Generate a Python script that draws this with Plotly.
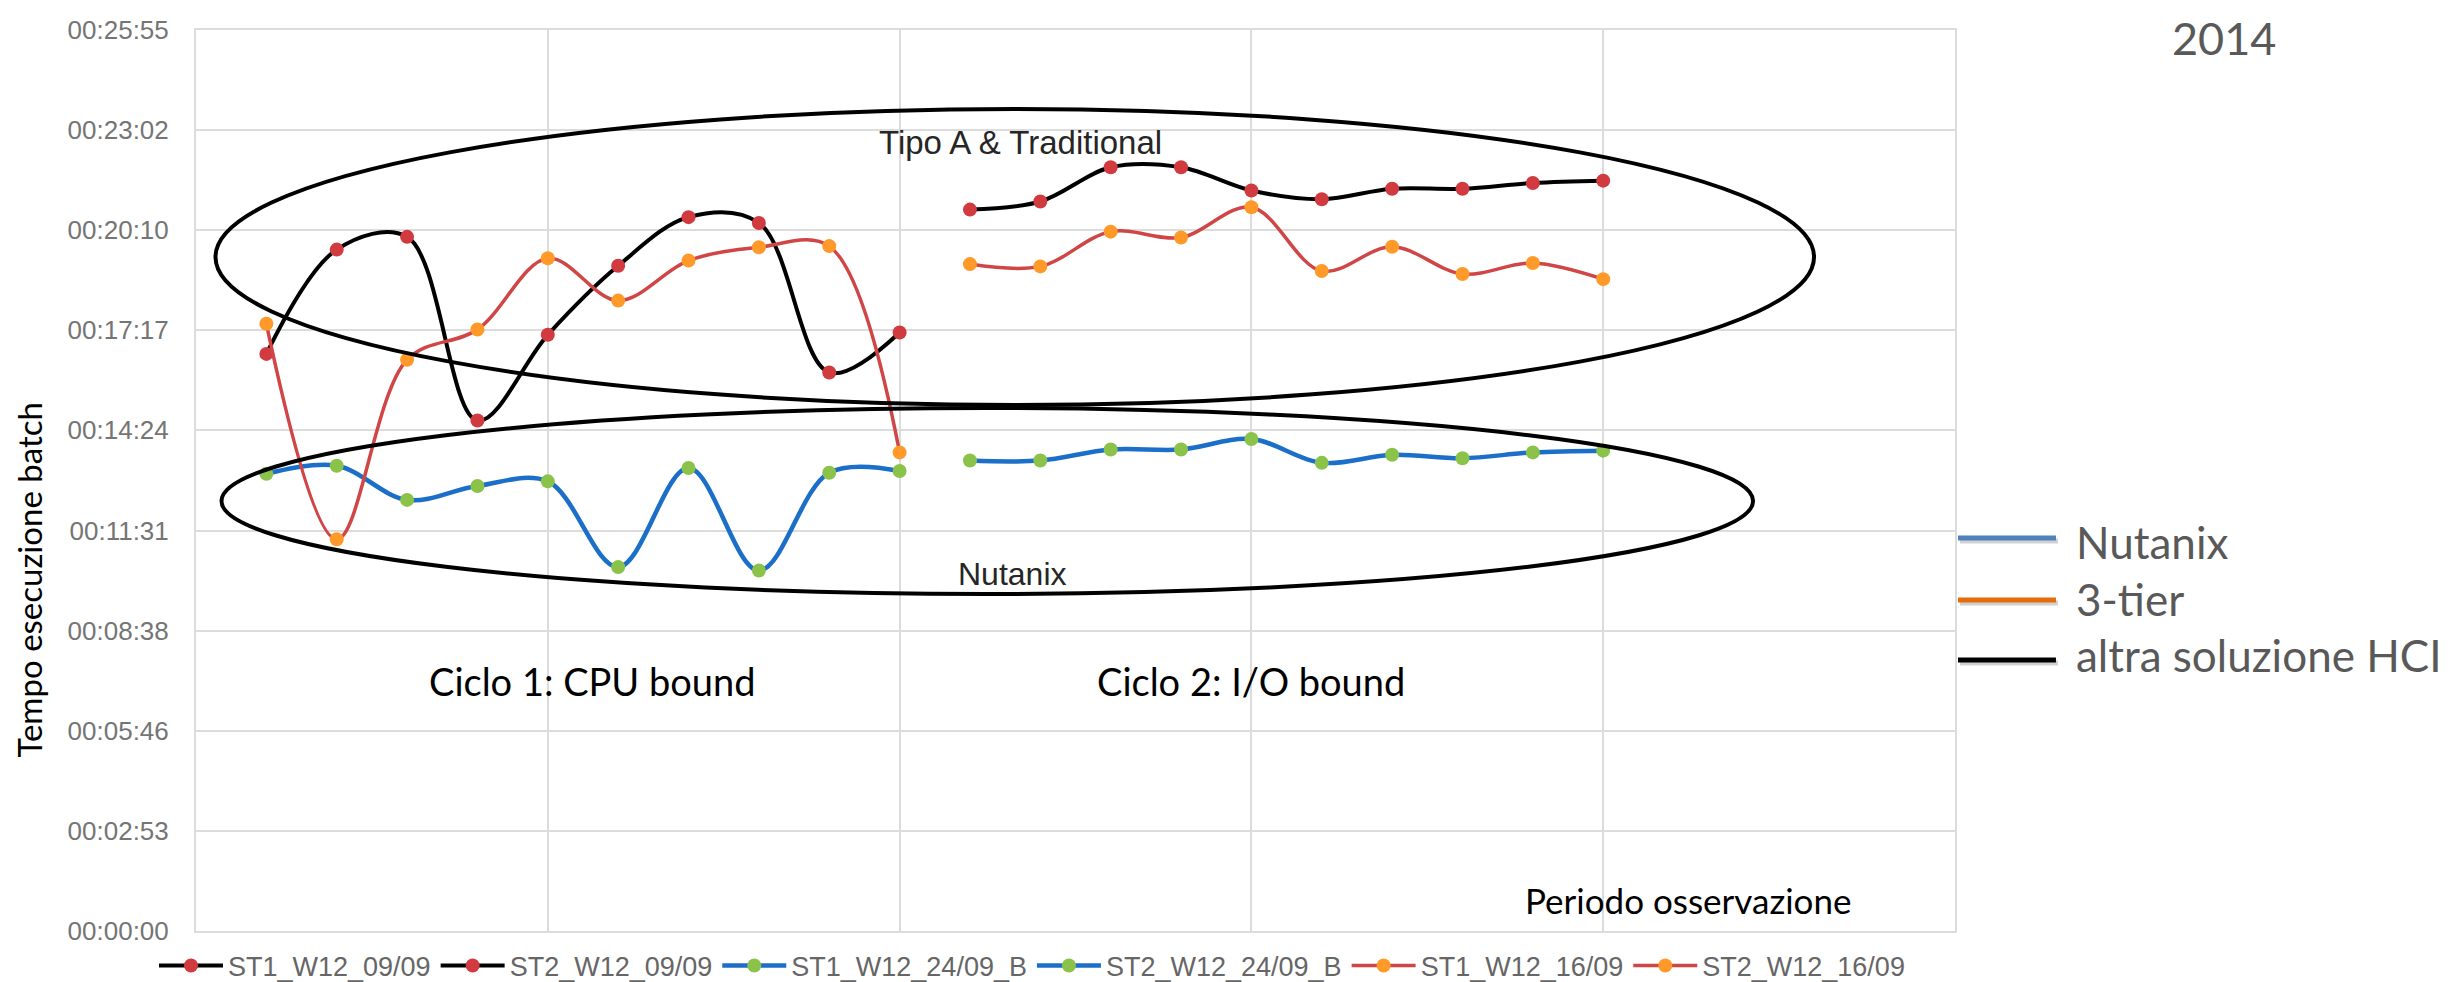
import plotly.graph_objects as go

# ---------------- data (seconds) ----------------
positions_c1 = [1, 2, 3, 4, 5, 6, 7, 8, 9, 10]
positions_c2 = [11, 12, 13, 14, 15, 16, 17, 18, 19, 20]

st1_0909 = [996, 1176, 1198, 881, 1029, 1148, 1232, 1222, 964, 1033]
st2_0909 = [1245, 1259, 1318, 1318, 1278, 1263, 1281, 1281, 1291, 1295]
st1_2409b = [789, 803, 744, 768, 776, 628, 799, 622, 791, 794]
st2_2409b = [812, 812, 831, 831, 849, 808, 822, 816, 826, 829]
st1_1609 = [1048, 676, 986, 1038, 1161, 1088, 1157, 1180, 1182, 826]
st2_1609 = [1151, 1147, 1207, 1197, 1249, 1139, 1181, 1134, 1153, 1125]

series_names = ["ST1_W12_09/09", "ST2_W12_09/09", "ST1_W12_24/09_B",
                "ST2_W12_24/09_B", "ST1_W12_16/09", "ST2_W12_16/09"]

y_tick_labels = ["00:00:00", "00:02:53", "00:05:46", "00:08:38", "00:11:31",
                 "00:14:24", "00:17:17", "00:20:10", "00:23:02", "00:25:55"]

right_legend_labels = ["Nutanix", "3-tier", "altra soluzione HCI"]


def to_sec(s):
    h, m, sec = (int(v) for v in s.split(":"))
    return h * 3600 + m * 60 + sec


y_tick_vals = [to_sec(s) for s in y_tick_labels]

# ---------------- styles ----------------
W_FIG, H_FIG = 2461, 982
L, R, T, B = 187.5, 1947, 22, 923
PW, PH = R - L, B - T


def px(x):
    return (x - L) / PW


def py(y):
    return (B - y) / PH


RED_M = "#d13a3e"
ORANGE_M = "#ff9a2a"
GREEN_M = "#8bc34a"
BLUE_L = "#1b6fc8"
RED_L = "#d04646"
BLACK_L = "#000000"

traces_spec = [
    (series_names[0], positions_c1, st1_0909, BLACK_L, 4, RED_M),
    (series_names[1], positions_c2, st2_0909, BLACK_L, 4, RED_M),
    (series_names[2], positions_c1, st1_2409b, BLUE_L, 4.5, GREEN_M),
    (series_names[3], positions_c2, st2_2409b, BLUE_L, 4.5, GREEN_M),
    (series_names[4], positions_c1, st1_1609, RED_L, 3.5, ORANGE_M),
    (series_names[5], positions_c2, st2_1609, RED_L, 3.5, ORANGE_M),
]

fig = go.Figure()
for name, xs, ys, lc, lw, mc in traces_spec:
    fig.add_trace(go.Scatter(
        x=xs, y=ys, name=name, mode="lines+markers",
        line=dict(color=lc, width=lw, shape="spline", smoothing=1.0),
        marker=dict(color=mc, size=14),
    ))

GRID = "#dcdcdc"
fig.update_layout(
    width=W_FIG, height=H_FIG,
    margin=dict(l=L, r=W_FIG - R, t=T, b=H_FIG - B, autoexpand=False),
    plot_bgcolor="white", paper_bgcolor="white",
    xaxis=dict(range=[0, 25], dtick=5, tick0=0, showticklabels=False,
               showgrid=True, gridcolor=GRID, gridwidth=2,
               showline=True, linecolor=GRID, linewidth=2, mirror=True,
               zeroline=False, ticks=""),
    yaxis=dict(range=[0, y_tick_vals[-1]], tickvals=y_tick_vals, ticktext=y_tick_labels,
               showgrid=True, gridcolor=GRID, gridwidth=2,
               showline=True, linecolor=GRID, linewidth=2, mirror=True,
               zeroline=False, ticks="outside", ticklen=20, tickcolor="rgba(0,0,0,0)",
               tickfont=dict(family="Liberation Sans, Arial", size=26, color="#757575")),
    showlegend=True,
    legend=dict(orientation="h", xref="container", yref="container",
                x=146 / W_FIG, xanchor="left", y=1 - 958 / H_FIG, yanchor="middle",
                font=dict(family="Liberation Sans, Arial", size=27, color="#666666"),
                itemwidth=64, tracegroupgap=0, bgcolor="rgba(0,0,0,0)"),
)

# ellipses
ellipses = [(207, 101, 1806, 397), (213, 400, 1745, 586)]
for x0, y0, x1, y1 in ellipses:
    fig.add_shape(type="circle", xref="paper", yref="paper",
                  x0=px(x0), x1=px(x1), y0=py(y1), y1=py(y0),
                  line=dict(color="black", width=4), fillcolor="rgba(0,0,0,0)")

# right-side manual legend
legend_line_colors = ["#4f81bd", "#e46c0a", "#000000"]
line_ys = [530, 592, 652]
text_ys = [534, 591, 647]
for lab, col, ly, ty in zip(right_legend_labels, legend_line_colors, line_ys, text_ys):
    fig.add_shape(type="line", xref="paper", yref="paper",
                  x0=px(1952), x1=px(2050), y0=py(ly + 3), y1=py(ly + 3),
                  line=dict(color="rgba(0,0,0,0.18)", width=5))
    fig.add_shape(type="line", xref="paper", yref="paper",
                  x0=px(1950), x1=px(2048), y0=py(ly), y1=py(ly),
                  line=dict(color=col, width=5))
    fig.add_annotation(text=lab, xref="paper", yref="paper", x=px(2066), y=py(ty),
                       xanchor="left", yanchor="middle", showarrow=False,
                       font=dict(family="Lato", size=44, color="#595959"))

CAL = "Lato"
ARI = "Liberation Sans, Arial"
texts = [
    ("Tipo A & Traditional", 1012, 134, ARI, 33, "#262626"),
    ("Nutanix", 1004, 566, ARI, 32, "#262626"),
    ("Ciclo 1: CPU bound", 584, 673, CAL, 38, "#000000"),
    ("Ciclo 2: I/O bound", 1243, 673, CAL, 38, "#000000"),
    ("Periodo osservazione", 1680, 892, CAL, 35, "#000000"),
    ("2014", 2216, 30, CAL, 45, "#595959"),
]
for t, x, y, fam, sz, col in texts:
    fig.add_annotation(text=t, xref="paper", yref="paper", x=px(x), y=py(y),
                       xanchor="center", yanchor="middle", showarrow=False,
                       font=dict(family=fam, size=sz, color=col))

fig.add_annotation(text="Tempo esecuzione batch", xref="paper", yref="paper",
                   x=px(20), y=py(572), textangle=-90, xanchor="center", yanchor="middle",
                   showarrow=False, font=dict(family=CAL, size=33, color="#000000"))

fig.write_html("out.html")
